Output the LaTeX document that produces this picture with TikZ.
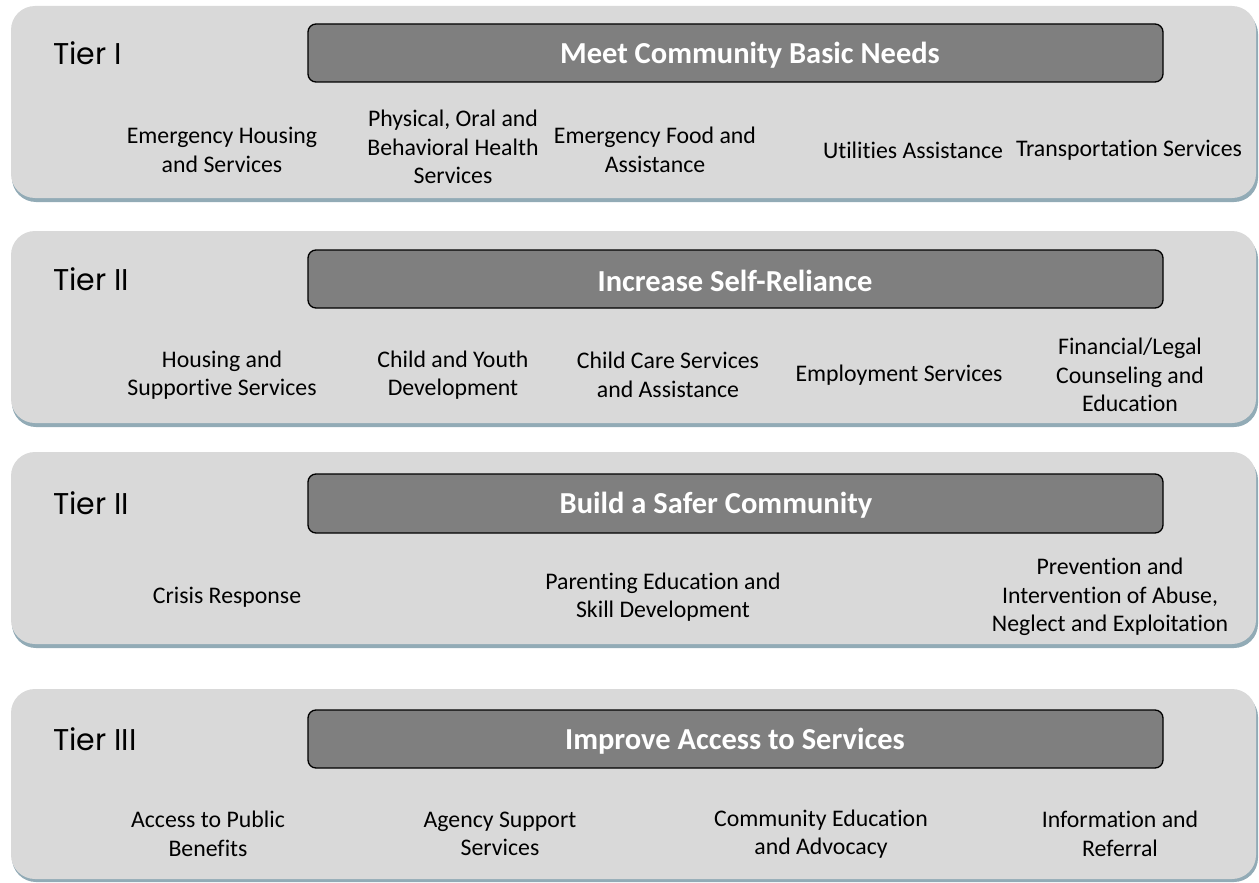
\documentclass[tikz,border=0pt]{standalone}
\usepackage{fontspec}
\setmainfont{Carlito}[Ligatures={NoCommon}]
\newfontfamily\tierfont{Poppins}
\definecolor{panelfill}{RGB}{217,217,217}
\definecolor{panelshadow}{RGB}{146,171,182}
\definecolor{barfill}{RGB}{127,127,127}
\tikzset{
  panel/.style={fill=panelfill, rounded corners=24pt},
  panelshade/.style={fill=panelshadow, rounded corners=24pt},
  goalbar/.style={draw=black, line width=1.3pt, fill=barfill, rounded corners=8pt},
  goaltext/.style={text=white, inner sep=0pt, font=\fontsize{30.5}{36}\selectfont\bfseries},
  tiertext/.style={anchor=west, inner sep=0pt, font=\tierfont\fontsize{30}{36}\selectfont},
  item/.style={align=center, inner sep=0pt, font=\fontsize{23.8}{28.5}\selectfont},
}
\begin{document}
\begin{tikzpicture}[x=1pt, y=-1pt]
\useasboundingbox (0,0) rectangle (1259,883);

% ---- Tier I panel ----
\path[panelshade] (12,10) rectangle (1258,202);
\path[panel] (11,6) rectangle (1256,198);
\path[goalbar] (308,24) rectangle (1163,82);
\node[tiertext] (t1) at (53,53) {Tier I};
\node[goaltext] (g1) at (750,55) {Meet Community Basic Needs};
\node[item] (a1) at (222,150) {Emergency Housing\\and Services};
\node[item] (a2) at (453,147) {Physical, Oral and\\Behavioral Health\\Services};
\node[item] (a3) at (655,150) {Emergency Food and\\Assistance};
\node[item] (a4) at (913,150) {Utilities Assistance};
\node[item] (a5) at (1129,150) {Transportation Services};

% ---- Tier II panel: self-reliance ----
\path[panelshade] (12,235) rectangle (1258,427);
\path[panel] (11,231) rectangle (1256,423);
\path[goalbar] (308,250) rectangle (1163,308);
\node[tiertext] (t2) at (53,279) {Tier II};
\node[goaltext] (g2) at (735,281) {Increase Self-Reliance};
\node[item] (b1) at (222,375) {Housing and\\Supportive Services};
\node[item] (b2) at (453,375) {Child and Youth\\Development};
\node[item] (b3) at (668,375) {Child Care Services\\and Assistance};
\node[item] (b4) at (899,375) {Employment Services};
\node[item] (b5) at (1130,375) {Financial/Legal\\Counseling and\\Education};

% ---- Tier II panel: safety ----
\path[panelshade] (12,456) rectangle (1258,648);
\path[panel] (11,452) rectangle (1256,644);
\path[goalbar] (308,474) rectangle (1163,533);
\node[tiertext] (t3) at (53,503) {Tier II};
\node[goaltext] (g3) at (716,505) {Build a Safer Community};
\node[item] (c1) at (227,597) {Crisis Response};
\node[item] (c2) at (663,597) {Parenting Education and\\Skill Development};
\node[item] (c3) at (1110,597) {Prevention and\\Intervention of Abuse,\\Neglect and Exploitation};

% ---- Tier III panel ----
\path[panelshade] (12,693) rectangle (1258,882);
\path[panel] (11,689) rectangle (1256,879);
\path[goalbar] (308,710) rectangle (1163,768);
\node[tiertext] (t4) at (53,739) {Tier III};
\node[goaltext] (g4) at (735,741) {Improve Access to Services};
\node[item] (d1) at (208,834) {Access to Public\\Benefits};
\node[item] (d2) at (500,834) {Agency Support\\Services};
\node[item] (d3) at (821,834) {Community Education\\and Advocacy};
\node[item] (d4) at (1120,834) {Information and\\Referral};
\end{tikzpicture}
\end{document}
